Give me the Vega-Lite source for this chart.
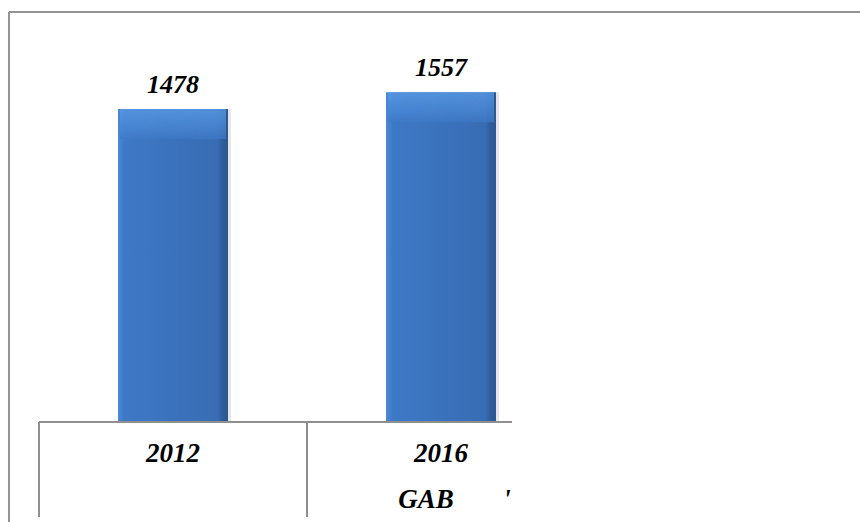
{
  "$schema": "https://vega.github.io/schema/vega-lite/v6.json",
  "autosize": {"type": "none"},
  "width": 851,
  "height": 510,
  "padding": {"left": 9, "top": 12, "right": 0, "bottom": 0},
  "background": "white",
  "config": {"view": {"stroke": null}},
  "datasets": {
    "bars": [{"year": "2012", "value": 1478}, {"year": "2016", "value": 1557}],
    "hlines": [{"x": 0, "x2": 1.765, "y": 0}],
    "vlines": [{"x": 0, "y": 0, "y2": -448.5}, {"x": 1, "y": 0, "y2": -448.5}],
    "frameTop": [{"y": 1936}],
    "frameLeft": [{"x": -0.112}],
    "labels": [
      {"x": 0.5, "y": -189, "text": "2012"},
      {"x": 1.5, "y": -189, "text": "2016"},
      {"x": 1.444, "y": -406, "text": "GAB"},
      {"x": 1.746, "y": -406, "text": "'"}
    ]
  },
  "resolve": {"scale": {"x": "independent"}},
  "layer": [
    {
      "data": {"name": "bars"},
      "encoding": {
        "x": {"field": "year", "type": "nominal", "axis": null,
              "scale": {"type": "band", "range": [30, 566], "paddingInner": 0.5896, "paddingOuter": 0.2948}},
        "y": {"field": "value", "type": "quantitative", "axis": null, "stack": null,
              "scale": {"domain": [-472, 1936], "nice": false, "zero": false}}
      },
      "layer": [
        {"mark": {"type": "bar", "color": "#e6e6e6", "xOffset": 3}, "encoding": {"y2": {"datum": 0}}},
        {"mark": {"type": "bar", "color": {"gradient": "linear", "x1": 0, "y1": 0, "x2": 1, "y2": 0,
            "stops": [
              {"offset": 0, "color": "#4a88d6"},
              {"offset": 0.06, "color": "#3e79c6"},
              {"offset": 0.5, "color": "#3b72bc"},
              {"offset": 0.9, "color": "#386db3"},
              {"offset": 0.95, "color": "#2f5d9c"},
              {"offset": 1, "color": "#2b568f"}
            ]}}, "encoding": {"y2": {"datum": 0}}},
        {"mark": {"type": "tick", "orient": "horizontal", "size": 106, "thickness": 30, "yOffset": 15,
            "color": {"gradient": "linear", "x1": 0, "y1": 0, "x2": 0, "y2": 1,
              "stops": [
                {"offset": 0, "color": "#5e9eea"},
                {"offset": 0.6, "color": "#4b8ad7"},
                {"offset": 1, "color": "#3e79c6"}
              ]}}},
        {"mark": {"type": "text", "dy": -16, "baseline": "alphabetic", "align": "center",
            "font": "Liberation Serif", "fontSize": 26, "fontWeight": "bold", "fontStyle": "italic", "color": "black"},
         "encoding": {"text": {"field": "value", "type": "quantitative", "format": "d"}}}
      ]
    },
    {
      "layer": [
        {
          "data": {"name": "frameTop"},
          "mark": {"type": "rule", "color": "#939393", "strokeWidth": 2},
          "encoding": {"y": {"field": "y", "type": "quantitative", "axis": null,
              "scale": {"domain": [-472, 1936], "nice": false, "zero": false}}}
        },
        {
          "data": {"name": "frameLeft"},
          "mark": {"type": "rule", "color": "#939393", "strokeWidth": 2},
          "encoding": {"x": {"field": "x", "type": "quantitative", "axis": null,
              "scale": {"domain": [0, 2], "range": [30, 566], "nice": false, "zero": false}}}
        },
        {
          "data": {"name": "hlines"},
          "mark": {"type": "rule", "color": "#8f8f8f", "strokeWidth": 2},
          "encoding": {
            "x": {"field": "x", "type": "quantitative", "axis": null,
              "scale": {"domain": [0, 2], "range": [30, 566], "nice": false, "zero": false}},
            "x2": {"field": "x2"},
            "y": {"field": "y", "type": "quantitative", "axis": null,
              "scale": {"domain": [-472, 1936], "nice": false, "zero": false}}
          }
        },
        {
          "data": {"name": "vlines"},
          "mark": {"type": "rule", "color": "#8f8f8f", "strokeWidth": 2},
          "encoding": {
            "x": {"field": "x", "type": "quantitative", "axis": null,
              "scale": {"domain": [0, 2], "range": [30, 566], "nice": false, "zero": false}},
            "y": {"field": "y", "type": "quantitative", "axis": null,
              "scale": {"domain": [-472, 1936], "nice": false, "zero": false}},
            "y2": {"field": "y2"}
          }
        },
        {
          "data": {"name": "labels"},
          "mark": {"type": "text", "baseline": "alphabetic", "align": "center",
            "font": "Liberation Serif", "fontSize": 27, "fontWeight": "bold", "fontStyle": "italic", "color": "black"},
          "encoding": {
            "x": {"field": "x", "type": "quantitative", "axis": null,
              "scale": {"domain": [0, 2], "range": [30, 566], "nice": false, "zero": false}},
            "y": {"field": "y", "type": "quantitative", "axis": null,
              "scale": {"domain": [-472, 1936], "nice": false, "zero": false}},
            "text": {"field": "text", "type": "nominal"}
          }
        }
      ]
    }
  ]
}
